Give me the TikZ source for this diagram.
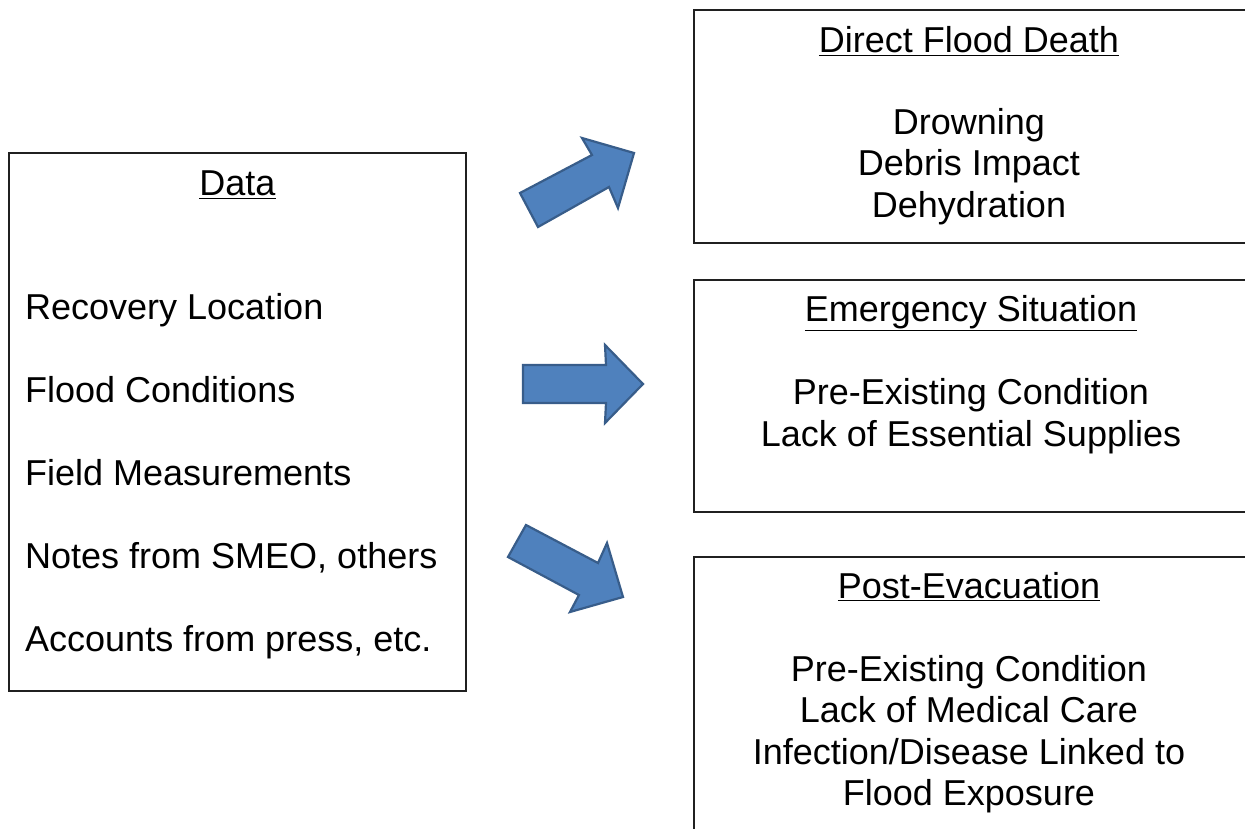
\documentclass[tikz,border=0pt]{standalone}
\usepackage{fontspec}
\setmainfont{Liberation Sans}
\definecolor{arrowfill}{HTML}{4F81BD}
\definecolor{arrowline}{HTML}{385D8A}
\definecolor{frameline}{HTML}{202020}
\begin{document}
\begin{tikzpicture}[x=1pt,y=-1pt,
  frame/.style={draw=frameline,line width=1.5pt,fill=none,inner sep=0pt},
  txt/.style={font=\fontsize{36}{41.5}\selectfont,inner sep=0pt,anchor=base},
  ltxt/.style={font=\fontsize{36}{41.5}\selectfont,inner sep=0pt,anchor=base west},
  blockarrow/.style={fill=arrowfill,draw=arrowline,line width=2.2pt,line join=miter}]
\useasboundingbox (0,0) rectangle (1245,829);
\clip (0,0) rectangle (1245,829);
\fill[white] (0,0) rectangle (1245,829);
% Data box
\draw[frame] (9,153) rectangle (466,691);
\node[txt] (dtitle) at (237.5,196) {\underline{Data}};
\node[ltxt] (d1) at (25,319) {Recovery Location};
\node[ltxt] (d2) at (25,402) {Flood Conditions};
\node[ltxt] (d3) at (25,485) {Field Measurements};
\node[ltxt] (d4) at (25,568) {Notes from SMEO, others};
\node[ltxt] (d5) at (25,651) {Accounts from press, etc.};
% Right boxes
\draw[frame] (694,10) rectangle (1260,243);
\draw[frame] (694,280) rectangle (1260,512);
\draw[frame] (694,557) rectangle (1260,860);
\node[txt] (t1) at (969,53) {\underline{Direct Flood Death}};
\node[txt] (a1) at (969,135) {Drowning};
\node[txt] (a2) at (969,176) {Debris Impact};
\node[txt] (a3) at (969,218) {Dehydration};
\node[txt] (t2) at (971,321) {\underline{Emergency Situation}};
\node[txt] (b1) at (971,404) {Pre-Existing Condition};
\node[txt] (b2) at (971,446) {Lack of Essential Supplies};
\node[txt] (t3) at (969,598) {\underline{Post-Evacuation}};
\node[txt] (c1) at (969,681) {Pre-Existing Condition};
\node[txt] (c2) at (969,722) {Lack of Medical Care};
\node[txt] (c3) at (969,764) {Infection/Disease Linked to};
\node[txt] (c4) at (969,805) {Flood Exposure};
% Block arrows
\draw[blockarrow] (520,193) -- (538,227) -- (609,187) -- (618,208) -- (634,153) -- (582,138) -- (592,155) -- cycle;
\draw[blockarrow] (523,365) -- (606,365) -- (605,345) -- (643,384) -- (605,423) -- (606,403) -- (523,403) -- cycle;
\draw[blockarrow] (526,525) -- (508,557) -- (579,595) -- (570,612) -- (623,597) -- (607,543) -- (598,563) -- cycle;
\end{tikzpicture}
\end{document}
